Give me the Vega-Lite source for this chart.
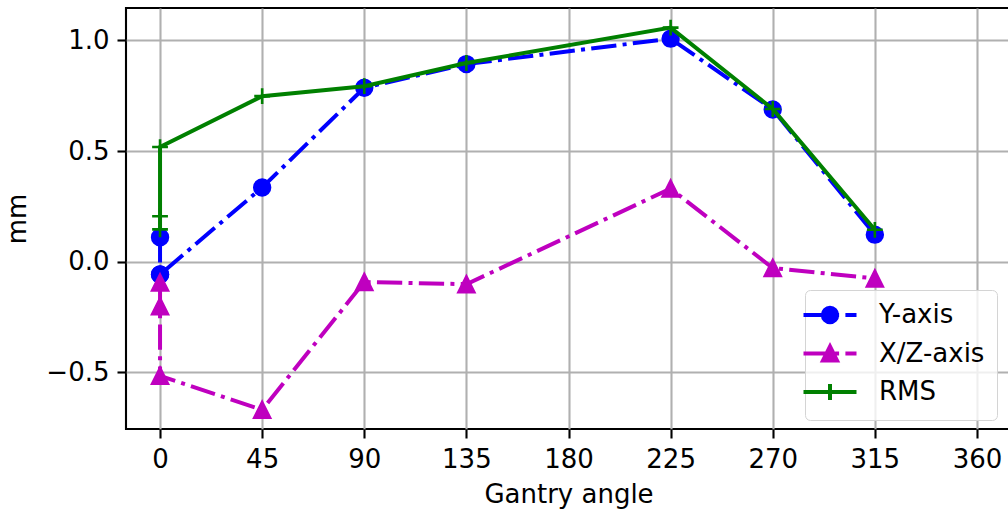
{
  "$schema": "https://vega.github.io/schema/vega-lite/v6.json",
  "width": 885,
  "height": 421,
  "autosize": {"type": "none"},
  "padding": {"left": 126, "top": 8, "right": 0, "bottom": 82},
  "background": "white",
  "config": {
    "font": "DejaVu Sans",
    "view": {"stroke": "black", "strokeWidth": 2.1},
    "axis": {
      "labelFont": "DejaVu Sans", "titleFont": "DejaVu Sans",
      "labelFontSize": 26, "titleFontSize": 26, "titleFontWeight": "normal",
      "labelColor": "black", "titleColor": "black",
      "tickColor": "black", "tickWidth": 2.1, "tickSize": 9,
      "domain": false, "gridColor": "#b0b0b0", "gridWidth": 2.1, "gridOpacity": 1
    }
  },
  "data": {"values": [
    {"series": "Y-axis", "angle": 0, "mm": 0.11, "i": 0},
    {"series": "Y-axis", "angle": 0, "mm": -0.058, "i": 1},
    {"series": "Y-axis", "angle": 0, "mm": -0.058, "i": 2},
    {"series": "Y-axis", "angle": 45, "mm": 0.335, "i": 3},
    {"series": "Y-axis", "angle": 90, "mm": 0.786, "i": 4},
    {"series": "Y-axis", "angle": 135, "mm": 0.893, "i": 5},
    {"series": "Y-axis", "angle": 225, "mm": 1.008, "i": 6},
    {"series": "Y-axis", "angle": 270, "mm": 0.688, "i": 7},
    {"series": "Y-axis", "angle": 315, "mm": 0.122, "i": 8},
    {"series": "X/Z-axis", "angle": 0, "mm": -0.095, "i": 0},
    {"series": "X/Z-axis", "angle": 0, "mm": -0.202, "i": 1},
    {"series": "X/Z-axis", "angle": 0, "mm": -0.516, "i": 2},
    {"series": "X/Z-axis", "angle": 45, "mm": -0.67, "i": 3},
    {"series": "X/Z-axis", "angle": 90, "mm": -0.092, "i": 4},
    {"series": "X/Z-axis", "angle": 135, "mm": -0.102, "i": 5},
    {"series": "X/Z-axis", "angle": 225, "mm": 0.33, "i": 6},
    {"series": "X/Z-axis", "angle": 270, "mm": -0.029, "i": 7},
    {"series": "X/Z-axis", "angle": 315, "mm": -0.076, "i": 8},
    {"series": "RMS", "angle": 0, "mm": 0.146, "i": 0},
    {"series": "RMS", "angle": 0, "mm": 0.205, "i": 1},
    {"series": "RMS", "angle": 0, "mm": 0.518, "i": 2},
    {"series": "RMS", "angle": 45, "mm": 0.748, "i": 3},
    {"series": "RMS", "angle": 90, "mm": 0.793, "i": 4},
    {"series": "RMS", "angle": 135, "mm": 0.898, "i": 5},
    {"series": "RMS", "angle": 225, "mm": 1.058, "i": 6},
    {"series": "RMS", "angle": 270, "mm": 0.69, "i": 7},
    {"series": "RMS", "angle": 315, "mm": 0.144, "i": 8}
  ]},
  "encoding": {
    "x": {"field": "angle", "type": "quantitative",
      "scale": {"domain": [-15, 375], "nice": false, "zero": false},
      "axis": {"values": [0, 45, 90, 135, 180, 225, 270, 315, 360], "title": "Gantry angle", "grid": true, "labelPadding": 8, "titlePadding": 9}},
    "y": {"field": "mm", "type": "quantitative",
      "scale": {"domain": [-0.7565, 1.1465], "nice": false, "zero": false},
      "axis": {"values": [-0.5, 0, 0.5, 1.0], "format": ".1f", "title": "mm", "grid": true, "labelPadding": 8, "titlePadding": 15}}
  },
  "layer": [
    {"transform": [{"filter": "datum.series === 'Y-axis'"}],
     "mark": {"type": "line", "color": "#0000ff", "strokeWidth": 4, "strokeDash": [25.3, 6.3, 4, 6.3]},
     "encoding": {"order": {"field": "i", "type": "quantitative"}}},
    {"transform": [{"filter": "datum.series === 'Y-axis'"}],
     "mark": {"type": "point", "shape": "circle", "filled": true, "size": 250, "fill": "#0000ff", "stroke": "#0000ff", "strokeWidth": 2.6, "opacity": 1}},
    {"transform": [{"filter": "datum.series === 'X/Z-axis'"}],
     "mark": {"type": "line", "color": "#bf00bf", "strokeWidth": 4, "strokeDash": [25.3, 6.3, 4, 6.3]},
     "encoding": {"order": {"field": "i", "type": "quantitative"}}},
    {"transform": [{"filter": "datum.series === 'X/Z-axis'"}],
     "mark": {"type": "point", "shape": "M0,-1L1,1L-1,1Z", "filled": true, "size": 250, "fill": "#bf00bf", "stroke": "#bf00bf", "strokeWidth": 2.6, "opacity": 1}},
    {"transform": [{"filter": "datum.series === 'RMS'"}],
     "mark": {"type": "line", "color": "#008000", "strokeWidth": 4},
     "encoding": {"order": {"field": "i", "type": "quantitative"}}},
    {"transform": [{"filter": "datum.series === 'RMS'"}],
     "mark": {"type": "point", "shape": "M-1,0H1M0,-1V1", "filled": false, "size": 250, "fill": null, "stroke": "#008000", "strokeWidth": 2.6, "opacity": 1}},
    {"mark": {"type": "point", "filled": true, "opacity": 0},
     "encoding": {
       "color": {"field": "series", "type": "nominal",
         "scale": {"domain": ["Y-axis", "X/Z-axis", "RMS"], "range": ["#0000ff", "#bf00bf", "#008000"]},
         "legend": {"orient": "none", "legendX": 679, "legendY": 282, "title": null, "labelFont": "DejaVu Sans", "labelFontSize": 26, "labelColor": "black", "symbolSize": 400, "symbolStrokeWidth": 4, "symbolOpacity": 1, "labelOffset": 36, "rowPadding": 7.5, "padding": 12, "fillColor": "rgba(255,255,255,0.8)", "strokeColor": "#d4d4d4", "cornerRadius": 5}},
       "stroke": {"field": "series", "type": "nominal",
         "scale": {"domain": ["Y-axis", "X/Z-axis", "RMS"], "range": ["#0000ff", "#bf00bf", "#008000"]},
         "legend": {"orient": "none", "legendX": 679, "legendY": 282, "title": null, "labelFont": "DejaVu Sans", "labelFontSize": 26, "labelColor": "black", "symbolSize": 400, "symbolStrokeWidth": 4, "symbolOpacity": 1, "labelOffset": 36, "rowPadding": 7.5, "padding": 12, "fillColor": "rgba(255,255,255,0.8)", "strokeColor": "#d4d4d4", "cornerRadius": 5}},
       "shape": {"field": "series", "type": "nominal",
         "scale": {"domain": ["Y-axis", "X/Z-axis", "RMS"], "range": [
           "M-2.65,0H-0.12M0.51,0H0.91M1.54,0H2.65M-0.72,0A0.72,0.72,0,1,1,0.72,0A0.72,0.72,0,1,1,-0.72,0Z",
           "M-2.65,0H-0.12M0.51,0H0.91M1.54,0H2.65M0,-0.7L0.7,0.7L-0.7,0.7Z",
           "M-2.65,0H2.65M0,-0.8V0.8"]},
         "legend": {"orient": "none", "legendX": 679, "legendY": 282, "title": null, "labelFont": "DejaVu Sans", "labelFontSize": 26, "labelColor": "black", "symbolSize": 400, "symbolStrokeWidth": 4, "symbolOpacity": 1, "labelOffset": 36, "rowPadding": 7.5, "padding": 12, "fillColor": "rgba(255,255,255,0.8)", "strokeColor": "#d4d4d4", "cornerRadius": 5}}
     }}
  ]
}
